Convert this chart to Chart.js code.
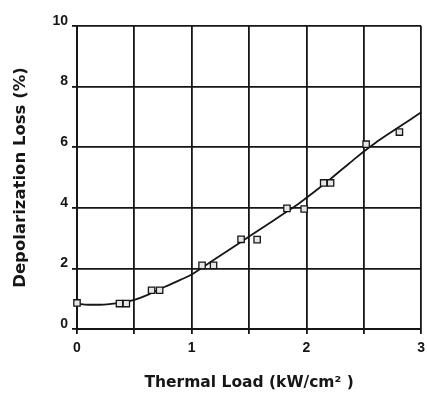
<!DOCTYPE html>
<html>
<head>
<meta charset="utf-8">
<script src="https://cdn.jsdelivr.net/npm/chart.js@4"></script>
<style>
  html, body { margin: 0; padding: 0; background: #ffffff; }
  canvas { display: block; }
</style>
</head>
<body>
<canvas id="c" width="427" height="394"></canvas>
<script>
// Fitted curve
const curveX = [0, 0.1, 0.2, 0.3, 0.4, 0.5, 0.6, 0.7, 0.8, 0.9, 1.0, 1.1, 1.2, 1.3, 1.4, 1.5, 1.6, 1.7, 1.8, 1.9, 2.0, 2.1, 2.2, 2.3, 2.4, 2.5, 2.6, 2.7, 2.8, 2.9, 3.0];
const curveY = [0.83, 0.80, 0.80, 0.83, 0.88, 0.96, 1.10, 1.28, 1.45, 1.62, 1.80, 2.05, 2.30, 2.55, 2.80, 3.05, 3.30, 3.55, 3.80, 4.05, 4.33, 4.62, 4.92, 5.24, 5.55, 5.86, 6.14, 6.40, 6.65, 6.90, 7.15];

// Measured points
const markX = [0, 0.37, 0.43, 0.65, 0.72, 1.09, 1.19, 1.43, 1.57, 1.83, 1.98, 2.15, 2.21, 2.52, 2.81];
const markY = [0.86, 0.84, 0.84, 1.28, 1.28, 2.10, 2.10, 2.96, 2.95, 3.98, 3.96, 4.82, 4.82, 6.10, 6.50];

// Tick labels
const xTickValues = [0, 1, 2, 3];
const xTickLabels = ['0', '1', '2', '3'];
const yTickValues = [0, 2, 4, 6, 8, 10];
const yTickLabels = ['0', '2', '4', '6', '8', '10'];

const xTitle = 'Thermal Load (kW/cm\u00B2 )';
const yTitle = 'Depolarization Loss (%)';

const INK = '#161616';

const curveData = curveX.map((x, i) => ({ x: x, y: curveY[i] }));
const markData = markX.map((x, i) => ({ x: x, y: markY[i] }));

new Chart(document.getElementById('c'), {
  type: 'scatter',
  data: {
    datasets: [
      {
        label: 'fit',
        data: curveData,
        showLine: true,
        borderColor: INK,
        borderWidth: 1.8,
        pointRadius: 0,
        cubicInterpolationMode: 'monotone',
        clip: false,
        order: 2
      },
      {
        label: 'measured',
        data: markData,
        showLine: false,
        pointStyle: 'rect',
        pointRadius: 4.5,
        pointBackgroundColor: '#e6e6e6',
        pointBorderColor: INK,
        pointBorderWidth: 1.3,
        clip: false,
        order: 1
      }
    ]
  },
  options: {
    responsive: false,
    devicePixelRatio: 1,
    animation: false,
    layout: { padding: { left: 0, right: 3, top: 26, bottom: 0 } },
    plugins: {
      legend: { display: false },
      tooltip: { enabled: false }
    },
    scales: {
      x: {
        type: 'linear',
        min: 0,
        max: 3,
        afterFit: (s) => { s.height = 65; s.paddingLeft = 0; s.paddingRight = 0; },
        ticks: {
          stepSize: 0.5,
          autoSkip: false,
          maxRotation: 0,
          padding: 6,
          color: INK,
          font: { family: '"Liberation Sans", Arial, sans-serif', size: 14, weight: 'bold' },
          callback: (v) => { const i = xTickValues.indexOf(v); return i >= 0 ? xTickLabels[i] : ''; }
        },
        grid: { color: INK, lineWidth: 1.8, tickLength: 5, tickColor: INK, tickWidth: 1.8 },
        border: { display: true, color: INK, width: 2 },
        title: {
          display: true,
          text: xTitle,
          color: INK,
          font: { family: '"DejaVu Sans", sans-serif', size: 15.5, weight: 'bold' },
          padding: { top: 0, bottom: 2 }
        }
      },
      y: {
        type: 'linear',
        min: 0,
        max: 10,
        afterFit: (s) => { s.width = 77; s.paddingTop = 0; s.paddingBottom = 0; },
        ticks: {
          stepSize: 2,
          padding: 4,
          labelOffset: -5,
          color: INK,
          font: { family: '"Liberation Sans", Arial, sans-serif', size: 14, weight: 'bold' },
          callback: (v) => { const i = yTickValues.indexOf(v); return i >= 0 ? yTickLabels[i] : ''; }
        },
        grid: { color: INK, lineWidth: 1.8, tickLength: 5, tickColor: INK, tickWidth: 1.8 },
        border: { display: true, color: INK, width: 2 },
        title: {
          display: true,
          text: yTitle,
          color: INK,
          font: { family: '"DejaVu Sans", sans-serif', size: 16.5, weight: 'bold' },
          padding: { top: 11, bottom: 0 }
        }
      }
    }
  }
});
</script>
</body>
</html>
